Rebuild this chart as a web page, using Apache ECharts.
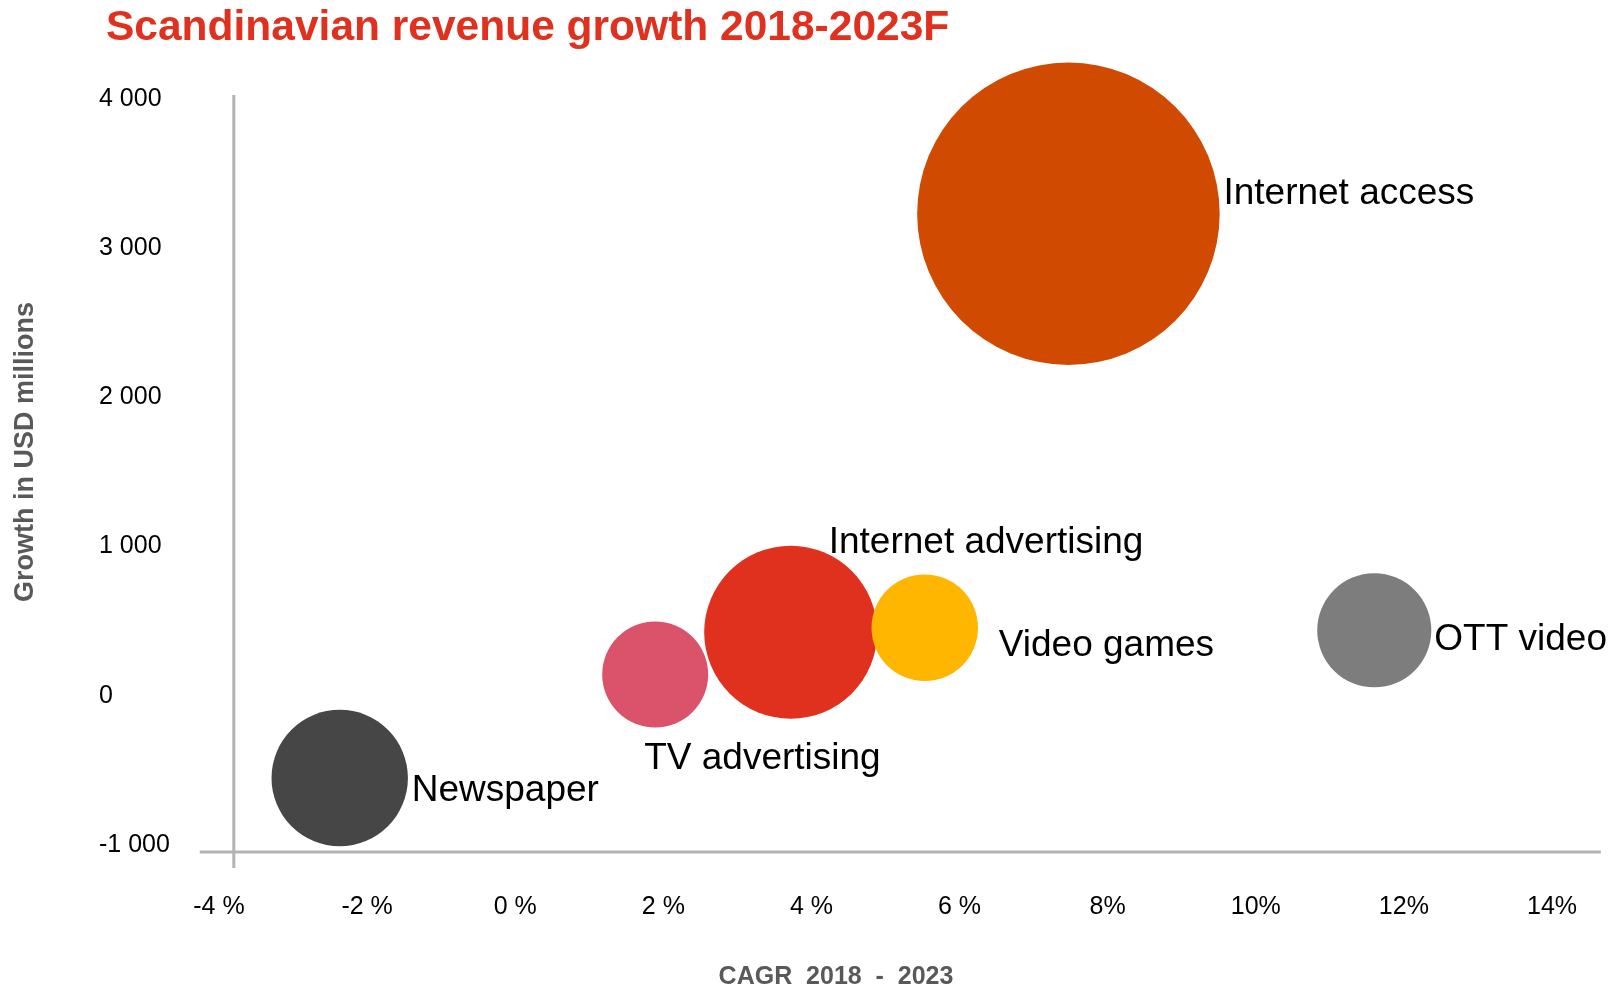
<!DOCTYPE html>
<html>
<head>
<meta charset="utf-8">
<title>Scandinavian revenue growth 2018-2023F</title>
<script src="https://cdn.jsdelivr.net/npm/echarts@6/dist/echarts.min.js"></script>
<style>
  html, body { margin: 0; padding: 0; background: #ffffff; }
  #chart { width: 1614px; height: 987px; }
</style>
</head>
<body>
<div id="chart"></div>
<script>
// Segments, their CAGR 2018-2023 (%), absolute growth (USD millions) and market size (bubble area)
const categories = ['Newspaper', 'TV advertising', 'Internet advertising', 'Video games', 'OTT video', 'Internet access'];
const cagr = [-2.37, 1.89, 3.72, 5.53, 11.60, 7.47];
const growth = [-551, 143, 426, 456, 439, 3231];
const marketSize = [1830, 1105, 2945, 1115, 1280, 9000];

const xTickLabels = ['-4 %', '-2 %', '0 %', '2 %', '4 %', '6 %', '8%', '10%', '12%', '14%'];
const yTickLabels = ['-1 000', '0', '1 000', '2 000', '3 000', '4 000'];

const colors = {
  'Newspaper': '#464646',
  'TV advertising': '#DB536A',
  'Internet advertising': '#E0301E',
  'Video games': '#FFB600',
  'OTT video': '#7D7D7D',
  'Internet access': '#D04A02'
};

// label anchor (left edge, vertical middle) relative to bubble centre, px
const labelOffset = {
  'Newspaper': [72, 13],
  'TV advertising': [-11, 84],
  'Internet advertising': [38, -89],
  'Video games': [74, 18],
  'OTT video': [60, 9],
  'Internet access': [155, -20]
};

const FONT = "'Liberation Sans', Arial, Helvetica, sans-serif";
const BUBBLE_MAX_PX = 302.5;
const maxSize = Math.max.apply(null, marketSize);

// where the drawn axis lines cross, in data units
const axisCross = { cagr: -3.8, growth: -1047 };
const xLineExtent = [-4.26, 14.66];
const yLineExtent = [-1154, 4027];

const chart = echarts.init(document.getElementById('chart'), null, { renderer: 'canvas' });

const option = {
  animation: false,
  backgroundColor: '#ffffff',
  grid: { left: 219, right: 62, top: 99, bottom: 142 },
  xAxis: {
    type: 'value',
    min: -4, max: 14, interval: 2,
    splitLine: { show: false },
    axisLine: { show: false },
    axisTick: { show: false },
    axisLabel: {
      margin: 50,
      fontSize: 25,
      fontFamily: FONT,
      color: '#000000',
      formatter: v => xTickLabels[Math.round((v + 4) / 2)]
    }
  },
  yAxis: {
    type: 'value',
    min: -1000, max: 4000, interval: 1000,
    splitLine: { show: false },
    axisLine: { show: false },
    axisTick: { show: false },
    axisLabel: {
      margin: 120,
      align: 'left',
      fontSize: 25,
      fontFamily: FONT,
      color: '#000000',
      formatter: v => yTickLabels[Math.round((v + 1000) / 1000)]
    }
  },
  series: [{
    type: 'scatter',
    clip: false,
    symbol: 'circle',
    symbolSize: d => BUBBLE_MAX_PX * Math.sqrt(d[2] / maxSize),
    data: categories.map((name, i) => ({
      name: name,
      value: [cagr[i], growth[i], marketSize[i]],
      itemStyle: { color: colors[name], opacity: 1 },
      label: { offset: labelOffset[name] }
    })),
    label: {
      show: true,
      position: 'inside',
      align: 'left',
      verticalAlign: 'middle',
      formatter: p => p.name,
      fontSize: 37,
      fontFamily: FONT,
      color: '#000000',
      textBorderWidth: 0
    },
    emphasis: { disabled: true }
  }],
  graphic: {
    elements: [
      {
        id: 'title', type: 'text', x: 106, y: 28,
        style: {
          text: 'Scandinavian revenue growth 2018-2023F',
          fontSize: 42.5, fontWeight: 'bold', fontFamily: FONT,
          fill: '#E0301E', align: 'left', verticalAlign: 'middle'
        }
      },
      {
        id: 'yName', type: 'text', x: 26, y: 452, rotation: Math.PI / 2,
        style: {
          text: 'Growth in USD millions',
          fontSize: 27, fontWeight: 'bold', fontFamily: FONT,
          fill: '#595959', align: 'center', verticalAlign: 'middle'
        }
      },
      {
        id: 'xName', type: 'text', x: 836, y: 977,
        style: {
          text: 'CAGR  2018  -  2023',
          fontSize: 25, fontWeight: 'bold', fontFamily: FONT,
          fill: '#595959', align: 'center', verticalAlign: 'middle'
        }
      }
    ]
  }
};

chart.setOption(option);

// axis lines crossing inside the plot, placed through the chart's own scales
const toPx = (x, y) => chart.convertToPixel({ gridIndex: 0 }, [x, y]);
const xa = toPx(xLineExtent[0], axisCross.growth);
const xb = toPx(xLineExtent[1], axisCross.growth);
const ya = toPx(axisCross.cagr, yLineExtent[0]);
const yb = toPx(axisCross.cagr, yLineExtent[1]);
const axisStyle = { stroke: '#b3b3b3', lineWidth: 3 };

chart.setOption({
  graphic: {
    elements: [
      { id: 'xAxisLine', type: 'line', z: 1, shape: { x1: xa[0], y1: xa[1], x2: xb[0], y2: xb[1] }, style: axisStyle },
      { id: 'yAxisLine', type: 'line', z: 1, shape: { x1: ya[0], y1: ya[1], x2: yb[0], y2: yb[1] }, style: axisStyle }
    ]
  }
});
</script>
</body>
</html>
